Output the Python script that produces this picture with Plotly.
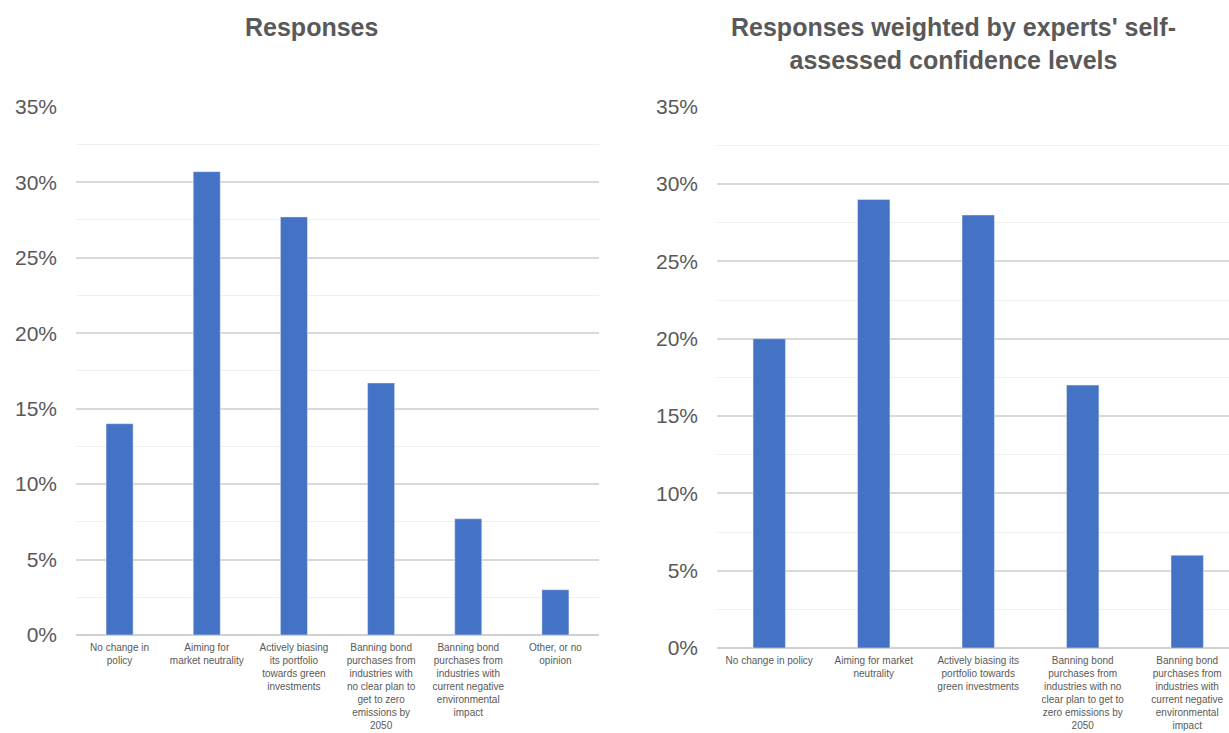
import plotly.graph_objects as go

# Left chart: Responses
left_categories = [
    "No change in<br>policy",
    "Aiming for<br>market neutrality",
    "Actively biasing<br>its portfolio<br>towards green<br>investments",
    "Banning bond<br>purchases from<br>industries with<br>no clear plan to<br>get to zero<br>emissions by<br>2050",
    "Banning bond<br>purchases from<br>industries with<br>current negative<br>environmental<br>impact",
    "Other, or no<br>opinion",
]
left_values = [0.140, 0.307, 0.277, 0.167, 0.077, 0.030]

# Right chart: Responses weighted by confidence
right_categories = [
    "No change in policy",
    "Aiming for market<br>neutrality",
    "Actively biasing its<br>portfolio towards<br>green investments",
    "Banning bond<br>purchases from<br>industries with no<br>clear plan to get to<br>zero emissions by<br>2050",
    "Banning bond<br>purchases from<br>industries with<br>current negative<br>environmental<br>impact",
]
right_values = [0.200, 0.290, 0.280, 0.170, 0.060]

y_ticks = [0, 0.05, 0.10, 0.15, 0.20, 0.25, 0.30, 0.35]

BAR = "#4472C4"
TXT = "#595959"
FONT = "Arial, Liberation Sans, sans-serif"
W, H = 1229, 733

fig = go.Figure()
fig.add_trace(go.Bar(x=left_categories, y=left_values, marker_color=BAR,
                     width=0.31, xaxis="x", yaxis="y", hoverinfo="skip"))
fig.add_trace(go.Bar(x=right_categories, y=right_values, marker_color=BAR,
                     width=0.31, xaxis="x2", yaxis="y2", hoverinfo="skip"))

def yax(domain, anchor):
    return dict(
        domain=domain, anchor=anchor, range=[0, 0.3505],
        tickvals=y_ticks, tickformat=".0%",
        tickfont=dict(family=FONT, size=21, color=TXT),
        showgrid=True, gridcolor="#d9d9d9", gridwidth=1.5,
        zeroline=True, zerolinecolor="#d0d0d0", zerolinewidth=1.5,
        minor=dict(dtick=0.025, showgrid=True, gridcolor="#efefef", gridwidth=1),
        ticks="", ticklabelstandoff=18, fixedrange=True, automargin=False,
    )

def xax(domain, anchor, rng):
    return dict(
        domain=domain, anchor=anchor, type="category", range=rng,
        tickfont=dict(family=FONT, size=10, color=TXT),
        showgrid=False, ticks="", showline=False, tickangle=0,
        ticklabelstandoff=5, fixedrange=True, automargin=False,
    )

fig.update_layout(
    width=W, height=H,
    margin=dict(l=0, r=0, t=0, b=0, autoexpand=False),
    paper_bgcolor="white", plot_bgcolor="white",
    showlegend=False,
    font=dict(family=FONT, color=TXT),
    xaxis=xax([76 / W, 599 / W], "y", [-0.5, 5.5]),
    yaxis=yax([(H - 635) / H, (H - 106) / H], "x"),
    xaxis2=xax([717 / W, 1.0], "y2", [-0.5, 4.4]),
    yaxis2=yax([(H - 648) / H, (H - 106) / H], "x2"),
    annotations=[
        dict(text="<b>Responses</b>", x=311 / W, y=1 - 27 / H, xref="paper", yref="paper",
             xanchor="center", yanchor="middle", showarrow=False,
             font=dict(family=FONT, size=25, color=TXT)),
        dict(text="<b>Responses weighted by experts' self-<br>assessed confidence levels</b>",
             x=953 / W, y=1 - 43 / H, xref="paper", yref="paper",
             xanchor="center", yanchor="middle", showarrow=False, align="center",
             font=dict(family=FONT, size=25, color=TXT)),
    ],
)

fig.write_html("out.html")
